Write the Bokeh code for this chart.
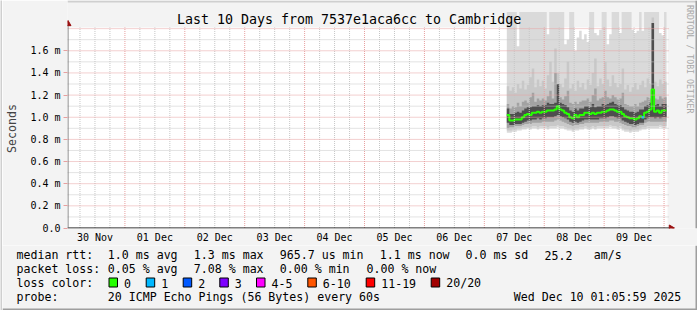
from datetime import datetime, timezone
from bokeh.plotting import figure
from bokeh.layouts import row, column
from bokeh.models import (Range1d, FixedTicker, DatetimeTickFormatter,
                          CustomJSTickFormatter, Label, ColumnDataSource)
from bokeh.embed import file_html
from bokeh.resources import INLINE


def utc_ms(y, mo, d, h=0, mi=0):
    return datetime(y, mo, d, h, mi, tzinfo=timezone.utc).timestamp() * 1000.0


HOUR = 3600 * 1000.0

# ---------------- data ----------------
TITLE = "Last 10 Days from 7537e1aca6cc to Cambridge"
DAY_LABEL_DATES = [(2025, 11, 30), (2025, 12, 1), (2025, 12, 2), (2025, 12, 3), (2025, 12, 4),
                   (2025, 12, 5), (2025, 12, 6), (2025, 12, 7), (2025, 12, 8), (2025, 12, 9)]
MIDNIGHT_DATES = [(2025, 12, d) for d in range(1, 11)]
Y_TICKS = [0.0, 0.2, 0.4, 0.6, 0.8, 1.0, 1.2, 1.4, 1.6]
Y_MINOR = [0.1, 0.3, 0.5, 0.7, 0.9, 1.1, 1.3, 1.5, 1.7]
Y_MAJOR = [0.2, 0.4, 0.6, 0.8, 1.0, 1.2, 1.4, 1.6, 1.8]

SERIES_START = utc_ms(2025, 12, 7, 9)   # first hourly bin

# median rtt per hour (ms)
median = [1.02, 0.97, 0.97, 0.98, 0.98, 0.98, 1.00, 1.02, 1.03, 1.02,
          1.04, 1.04, 1.05, 1.04, 1.05, 1.05, 1.06, 1.06, 1.06, 1.07,
          1.10, 1.07, 1.06, 1.04, 1.03, 1.00, 0.99, 1.02, 1.00, 1.02,
          1.02, 1.04, 1.04, 1.03, 1.04, 1.03, 1.04, 1.04, 1.05, 1.05,
          1.06, 1.07, 1.07, 1.06, 1.05, 1.05, 1.03, 1.01, 1.00, 0.99,
          0.99, 0.98, 0.99, 1.01, 1.00, 1.04, 1.05, 1.07, 1.25, 1.05,
          1.06, 1.04, 1.06, 1.06]
# lost pings per hour (of 20)
loss = [0, 0, 0, 0, 0, 0, 0, 0, 0, 0,
        0, 0, 0, 0, 0, 0, 0, 0, 0, 0,
        0, 0, 0, 0, 0, 0, 0, 0, 0, 0,
        0, 0, 0, 0, 0, 0, 0, 0, 0, 0,
        0, 0, 0, 0, 0, 0, 0, 0, 0, 0,
        0, 0, 0, 0, 1, 0, 0, 0, 0, 0,
        0, 0, 0, 0]
# smoke: outer envelope (min / max ping)
smoke_min = [0.86, 0.86, 0.87, 0.87, 0.88, 0.88, 0.89, 0.89, 0.90, 0.89,
             0.90, 0.90, 0.89, 0.90, 0.90, 0.90, 0.89, 0.90, 0.90, 0.90,
             0.91, 0.90, 0.90, 0.89, 0.88, 0.88, 0.87, 0.88, 0.88, 0.89,
             0.89, 0.90, 0.89, 0.89, 0.90, 0.89, 0.90, 0.90, 0.90, 0.90,
             0.90, 0.91, 0.90, 0.90, 0.89, 0.90, 0.88, 0.87, 0.87, 0.86,
             0.87, 0.87, 0.87, 0.88, 0.89, 0.89, 0.90, 0.90, 0.90, 0.90,
             0.90, 0.91, 0.90, 0.90]
smoke_max = [1.95, 1.95, 1.95, 1.95, 1.64, 1.95, 1.95, 1.95, 1.95, 1.95,
             1.95, 1.95, 1.95, 1.95, 1.95, 1.95, 1.75, 1.95, 1.95, 1.95,
             1.95, 1.95, 1.95, 1.66, 1.70, 1.95, 1.95, 1.60, 1.72, 1.78,
             1.70, 1.75, 1.68, 1.95, 1.95, 1.76, 1.74, 1.79, 1.95, 1.95,
             1.66, 1.75, 1.95, 1.95, 1.95, 1.76, 1.95, 1.95, 1.95, 1.95,
             1.79, 1.76, 1.78, 1.95, 1.78, 1.95, 1.95, 1.95, 1.95, 1.95,
             1.95, 1.76, 1.74, 1.95]
# smoke: second band
band1_lo = [0.88, 0.88, 0.89, 0.89, 0.90, 0.90, 0.91, 0.91, 0.91, 0.91,
            0.92, 0.92, 0.91, 0.92, 0.92, 0.92, 0.91, 0.92, 0.92, 0.92,
            0.93, 0.92, 0.92, 0.91, 0.90, 0.90, 0.89, 0.90, 0.90, 0.91,
            0.91, 0.92, 0.91, 0.91, 0.92, 0.91, 0.92, 0.92, 0.92, 0.92,
            0.92, 0.93, 0.92, 0.92, 0.91, 0.92, 0.90, 0.89, 0.89, 0.88,
            0.89, 0.89, 0.89, 0.90, 0.91, 0.91, 0.92, 0.92, 0.92, 0.92,
            0.92, 0.93, 0.92, 0.92]
band1_hi = [1.28, 1.24, 1.27, 1.22, 1.30, 1.26, 1.33, 1.25, 1.29, 1.36,
            1.44, 1.27, 1.34, 1.28, 1.33, 1.26, 1.38, 1.50, 1.32, 1.62,
            1.40, 1.30, 1.27, 1.35, 1.50, 1.26, 1.30, 1.24, 1.33, 1.27,
            1.31, 1.25, 1.34, 1.29, 1.40, 1.53, 1.28, 1.35, 1.30, 1.50,
            1.34, 1.28, 1.38, 1.31, 1.27, 1.30, 1.44, 1.25, 1.29, 1.23,
            1.27, 1.31, 1.25, 1.29, 1.33, 1.27, 1.35, 1.30, 1.90, 1.32,
            1.28, 1.34, 1.30, 1.32]
# smoke: third band
band2_lo = [0.90, 0.91, 0.91, 0.92, 0.92, 0.92, 0.93, 0.94, 0.94, 0.94,
            0.95, 0.95, 0.95, 0.95, 0.96, 0.96, 0.96, 0.96, 0.96, 0.97,
            0.98, 0.97, 0.96, 0.95, 0.94, 0.93, 0.92, 0.93, 0.93, 0.94,
            0.94, 0.95, 0.95, 0.95, 0.95, 0.95, 0.95, 0.96, 0.96, 0.96,
            0.96, 0.97, 0.97, 0.96, 0.96, 0.95, 0.94, 0.93, 0.92, 0.92,
            0.91, 0.91, 0.92, 0.93, 0.93, 0.95, 0.96, 0.96, 0.96, 0.96,
            0.96, 0.96, 0.96, 0.96]
band2_hi = [1.12, 1.08, 1.10, 1.09, 1.13, 1.10, 1.14, 1.15, 1.13, 1.18,
            1.22, 1.14, 1.17, 1.15, 1.17, 1.15, 1.19, 1.24, 1.17, 1.40,
            1.22, 1.18, 1.16, 1.19, 1.24, 1.13, 1.12, 1.14, 1.12, 1.14,
            1.15, 1.15, 1.17, 1.14, 1.20, 1.26, 1.15, 1.17, 1.18, 1.24,
            1.18, 1.17, 1.20, 1.18, 1.16, 1.17, 1.22, 1.12, 1.11, 1.10,
            1.10, 1.12, 1.10, 1.13, 1.14, 1.15, 1.18, 1.17, 1.85, 1.17,
            1.16, 1.19, 1.17, 1.18]
# smoke: dark core
band3_lo = [0.95, 0.93, 0.93, 0.94, 0.94, 0.94, 0.95, 0.96, 0.97, 0.97,
            0.98, 0.98, 0.99, 0.98, 0.99, 0.99, 1.00, 1.00, 1.00, 1.01,
            1.02, 1.01, 1.00, 0.99, 0.98, 0.96, 0.95, 0.96, 0.95, 0.96,
            0.97, 0.98, 0.98, 0.98, 0.98, 0.98, 0.98, 0.99, 0.99, 0.99,
            1.00, 1.01, 1.01, 1.00, 0.99, 0.99, 0.97, 0.96, 0.95, 0.94,
            0.94, 0.93, 0.94, 0.95, 0.95, 0.98, 0.99, 1.00, 1.00, 0.99,
            1.00, 0.99, 1.00, 1.00]
band3_hi = [1.08, 1.03, 1.03, 1.04, 1.05, 1.04, 1.06, 1.08, 1.09, 1.09,
            1.10, 1.10, 1.11, 1.10, 1.11, 1.11, 1.13, 1.12, 1.12, 1.13,
            1.30, 1.13, 1.12, 1.11, 1.09, 1.06, 1.05, 1.08, 1.06, 1.08,
            1.08, 1.10, 1.10, 1.09, 1.12, 1.09, 1.10, 1.10, 1.12, 1.11,
            1.12, 1.13, 1.14, 1.12, 1.11, 1.11, 1.09, 1.07, 1.06, 1.05,
            1.05, 1.04, 1.05, 1.07, 1.07, 1.10, 1.11, 1.13, 1.85, 1.11,
            1.12, 1.10, 1.12, 1.12]

loss_labels = ["0", "1", "2", "3", "4-5", "6-10", "11-19", "20/20"]
loss_colors = ["#26ff00", "#00b8ff", "#0059ff", "#7e00ff", "#ff00ff", "#ff5500", "#ff0000", "#a10000"]

rtt_stats = ["median rtt:", "1.0 ms avg", "1.3 ms max", "965.7 us min", "1.1 ms now",
             "0.0 ms sd", "25.2", "am/s"]
loss_stats = ["packet loss:", "0.05 % avg", "7.08 % max", "0.00 % min", "0.00 % now"]
probe_text = ["probe:", "20 ICMP Echo Pings (56 Bytes) every 60s", "Wed Dec 10 01:05:59 2025"]
side_text = "RRDTOOL / TOBI OETIKER"

# ---------------- layout (canvas pixels) ----------------
W, H = 697, 310
MAIN_H = 245          # main figure height, legend figure below
FRAME_L, FRAME_B = 66, 229
PLOT_R, PLOT_T = 667, 27
MONO = "DejaVu Sans Mono"
BG = "#f3f3f3"
ANCHOR_T, ANCHOR_PX = utc_ms(2025, 12, 1), 123.5     # Dec 1 00:00 grid column
MS_PER_PX = 24 * 60 * 1000.0                          # 10 days over 600 px
ZERO_PY, PX_PER_MS = 228.5, 111.25


def X(px):
    return ANCHOR_T + (px - ANCHOR_PX) * MS_PER_PX


def Y(py):
    return (ZERO_PY - py) / PX_PER_MS


# ---------------- main figure ----------------
p = figure(width=W - 2, height=MAIN_H, x_axis_type="datetime", output_backend="svg",
           toolbar_location=None, title=None,
           x_range=Range1d(X(FRAME_L), X(W)), y_range=Range1d(Y(FRAME_B), Y(0)),
           min_border_left=FRAME_L - 2, min_border_right=0,
           min_border_top=0, min_border_bottom=MAIN_H - FRAME_B)
p.frame_align = False
p.border_fill_color = BG
p.background_fill_color = BG
p.outline_line_color = None
p.xgrid.visible = False
p.ygrid.visible = False

# white plotting area
p.quad(left=X(FRAME_L), right=X(PLOT_R), bottom=0, top=Y(PLOT_T), fill_color="#ffffff", line_color=None)

n = len(median)
times = [SERIES_START + i * HOUR for i in range(n)]
xs = times + [SERIES_START + n * HOUR]


def ext(a):
    return a + [a[-1]]


p.varea_step(x=xs, y1=ext(smoke_min), y2=ext(smoke_max), step_mode="after", fill_color="#dadada")
p.varea_step(x=xs, y1=ext(band1_lo), y2=ext(band1_hi), step_mode="after", fill_color="#c8c8c8")
p.varea_step(x=xs, y1=ext(band2_lo), y2=ext(band2_hi), step_mode="after", fill_color="#a2a2a2")
p.varea_step(x=xs, y1=ext(band3_lo), y2=ext(band3_hi), step_mode="after", fill_color="#4e4e4e")

p.step(x=xs, y=ext(median), mode="after", line_color=loss_colors[0], line_width=2)
seg = ColumnDataSource(dict(
    x0=[t for t, l in zip(times, loss) if l > 0],
    x1=[t + HOUR for t, l in zip(times, loss) if l > 0],
    y=[m for m, l in zip(median, loss) if l > 0],
    c=[loss_colors[l] for l in loss if l > 0]))
p.segment(x0="x0", x1="x1", y0="y", y1="y", line_color="c", line_width=2.5, source=seg)

# grid lines (on top of the smoke, like rrdtool)
midnights = [utc_ms(*d) for d in MIDNIGHT_DATES]
six_hours = [m + k * 6 * HOUR for m in [utc_ms(2025, 11, 30)] + midnights[:-1] for k in (1, 2, 3)]
top_val = Y(PLOT_T)
x_left, x_right = X(FRAME_L), X(PLOT_R + 2)
MINOR_C, MAJOR_C = "#c6c6c6", "#e7a0a0"
p.segment(x0=six_hours, x1=six_hours, y0=[0] * len(six_hours), y1=[top_val] * len(six_hours),
          line_color=MINOR_C, line_dash="1 1", line_width=1)
p.segment(x0=[x_left] * len(Y_MINOR), x1=[x_right] * len(Y_MINOR), y0=Y_MINOR, y1=Y_MINOR,
          line_color=MINOR_C, line_dash="1 1", line_width=1)
p.segment(x0=midnights, x1=midnights, y0=[0] * len(midnights), y1=[top_val] * len(midnights),
          line_color=MAJOR_C, line_dash="1 1", line_width=1)
p.segment(x0=[x_left] * len(Y_MAJOR), x1=[x_right] * len(Y_MAJOR), y0=Y_MAJOR, y1=Y_MAJOR,
          line_color=MAJOR_C, line_dash="1 1", line_width=1)

# axis lines with arrow heads
p.segment(x0=[X(FRAME_L)], x1=[X(669)], y0=[0], y1=[0], line_color="#000000", line_width=1)
p.segment(x0=[X(66.5)], x1=[X(66.5)], y0=[0], y1=[Y(25)], line_color="#6e6e6e", line_width=1)
p.scatter(x=[X(670.5)], y=[0], marker="triangle", size=6, angle=-90, angle_units="deg",
          fill_color="#9a1010", line_color="#9a1010")
p.scatter(x=[X(66.5)], y=[Y(23.5)], marker="triangle", size=6,
          fill_color="#9a1010", line_color="#9a1010")

# 3d border pieces inside this figure
p.quad(left=X(FRAME_L), right=X(W), bottom=Y(2), top=Y(0), fill_color="#cfcfcf", line_color=None)
p.quad(left=X(W - 2), right=X(W), bottom=Y(FRAME_B), top=Y(0), fill_color="#9e9e9e", line_color=None)

# title and side text
p.add_layout(Label(x=X(348), y=Y(18.7), text=TITLE, text_align="center", text_baseline="middle",
                   text_font=MONO, text_font_size="13.3px", text_color="#000000"))
p.add_layout(Label(x=X(689.3), y=Y(59), text=side_text, text_align="center", text_baseline="middle",
                   angle=-90, angle_units="deg", text_font=MONO, text_font_size="8.2px",
                   text_color="#a8a8a8"))

# axes
noons = [utc_ms(y, m, d, 12) for (y, m, d) in DAY_LABEL_DATES]
p.xaxis.ticker = FixedTicker(ticks=noons)
fmt = "%d %b"
p.xaxis.formatter = DatetimeTickFormatter(days=fmt, hours=fmt, hourmin=fmt, minutes=fmt,
                                          minsec=fmt, seconds=fmt, months=fmt, years=fmt)
p.xaxis.axis_line_color = None
p.xaxis.major_tick_line_color = None
p.xaxis.major_tick_out = 0
p.xaxis.major_tick_in = 0
p.xaxis.minor_tick_line_color = None
p.xaxis.major_label_standoff = 3
p.xaxis.major_label_text_font = MONO
p.xaxis.major_label_text_font_size = "10px"
p.xaxis.major_label_text_color = "#000000"

p.yaxis.ticker = FixedTicker(ticks=Y_TICKS)
p.yaxis.formatter = CustomJSTickFormatter(code='return tick == 0 ? "0.0" : tick.toFixed(1) + " m";')
p.yaxis.axis_line_color = None
p.yaxis.major_tick_line_color = MAJOR_C
p.yaxis.major_tick_out = 4
p.yaxis.major_tick_in = 0
p.yaxis.minor_tick_line_color = None
p.yaxis.major_label_standoff = 3
p.yaxis.major_label_text_font = MONO
p.yaxis.major_label_text_font_size = "10px"
p.yaxis.major_label_text_color = "#000000"
p.yaxis.axis_label = "Seconds" + "\u00a0" * 4
p.yaxis.axis_label_text_font = MONO
p.yaxis.axis_label_text_font_size = "11.6px"
p.yaxis.axis_label_text_font_style = "normal"
p.yaxis.axis_label_standoff = 8

# ---------------- legend figure (canvas pixel coordinates) ----------------
q = figure(width=W - 2, height=H - MAIN_H, output_backend="svg", toolbar_location=None, title=None,
           x_range=Range1d(2, W), y_range=Range1d(H, MAIN_H),
           min_border_left=0, min_border_right=0, min_border_top=0, min_border_bottom=0)
q.frame_align = False
q.axis.visible = False
q.grid.visible = False
q.outline_line_color = None
q.border_fill_color = BG
q.background_fill_color = BG


def legend_text(txt, px, py):
    q.add_layout(Label(x=px, y=py, text=txt, text_align="left", text_baseline="middle",
                       text_font=MONO, text_font_size="11.6px", text_color="#000000"))


for txt, px in zip(rtt_stats, [16, 107.3, 193.3, 279.3, 379.3, 465, 544, 593.3]):
    legend_text(txt, px, 254.5)
for txt, px in zip(loss_stats, [16, 107.3, 193.3, 279.3, 366]):
    legend_text(txt, px, 268.5)
legend_text("loss color:", 16, 282.5)
box_x = [108.5, 145.7, 182.7, 219.3, 256, 307.3, 365.7, 430.7]
q.quad(left=box_x, right=[b + 8.5 for b in box_x], top=[277.5] * len(box_x),
       bottom=[286.5] * len(box_x), fill_color=loss_colors, line_color="#000000", line_width=1)
for lbl, bx in zip(loss_labels, box_x):
    legend_text(lbl, bx + 15, 282.5)
for txt, px in zip(probe_text, [16, 107.3, 513.3]):
    legend_text(txt, px, 296.5)

q.quad(left=2, right=W, bottom=H, top=H - 2, fill_color="#9e9e9e", line_color=None)
q.quad(left=W - 2, right=W, bottom=H, top=MAIN_H, fill_color="#9e9e9e", line_color=None)

# ---------------- left border strip ----------------
s = figure(width=2, height=H, output_backend="svg", toolbar_location=None, title=None,
           min_border_left=0, min_border_right=0, min_border_top=0, min_border_bottom=0)
s.frame_align = False
s.axis.visible = False
s.grid.visible = False
s.outline_line_color = None
s.border_fill_color = "#cfcfcf"
s.background_fill_color = "#cfcfcf"

layout = row(s, column(p, q, spacing=0), spacing=0)
open("out.html", "w").write(file_html(layout, INLINE))
